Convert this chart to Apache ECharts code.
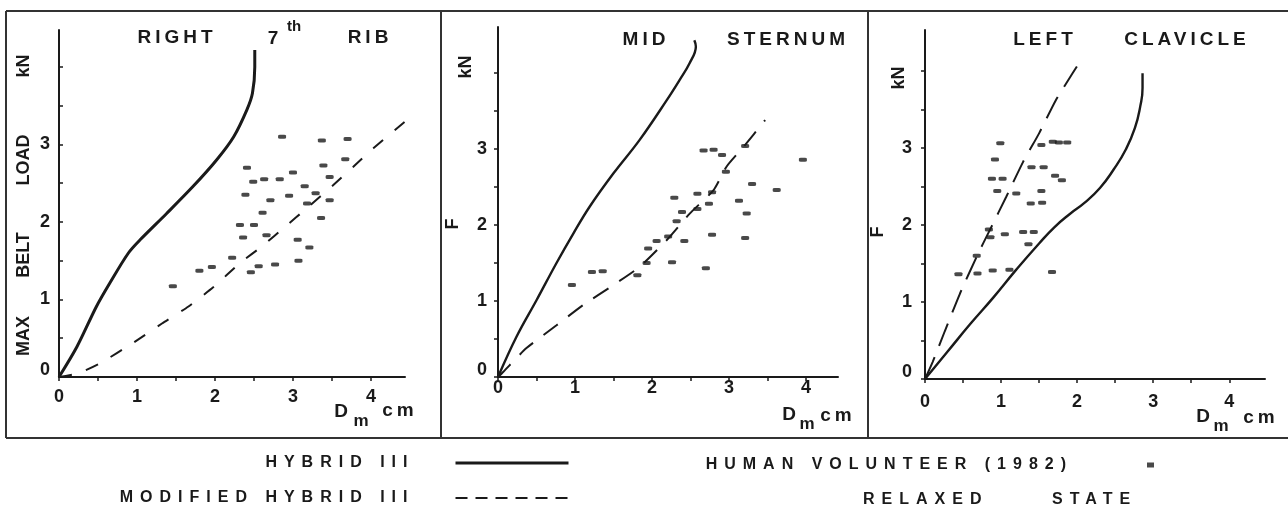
<!DOCTYPE html>
<html>
<head>
<meta charset="utf-8">
<script src="https://cdn.jsdelivr.net/npm/echarts@6/dist/echarts.min.js"></script>
<style>
  html, body { margin: 0; padding: 0; background: #ffffff; }
  #chart { width: 1288px; height: 514px; }
</style>
</head>
<body>
<div id="chart"></div>
<script>
// wide tracking of the lettering: headings and axis titles 4px, legend 7px
(function () {
  const proto = CanvasRenderingContext2D.prototype;
  if (!('letterSpacing' in proto)) return;
  const fill = proto.fillText;
  proto.fillText = function (t, x, y, w) {
    const m = /(\d+(?:\.\d+)?)px/.exec(this.font || '');
    const size = m ? parseFloat(m[1]) : 0;
    this.letterSpacing = (size === 19 || size === 17) ? '4px' : (size === 16 ? '7px' : '0px');
    return w === undefined ? fill.call(this, t, x, y) : fill.call(this, t, x, y, w);
  };
})();

// ---- tick values ----
const xTickValues = [0, 0.5, 1, 1.5, 2, 2.5, 3, 3.5, 4];
const xLabelValues = [0, 1, 2, 3, 4];
const yTickValues = [0, 0.5, 1, 1.5, 2, 2.5, 3, 3.5, 4];
const yLabelValues = [0, 1, 2, 3];

// ---- panel titles ----
const panelTitles = [['RIGHT', '7', 'RIB'], ['MID', 'STERNUM'], ['LEFT', 'CLAVICLE']];

// ---- legend names ----
const seriesNames = ['HYBRID III', 'MODIFIED HYBRID III', 'HUMAN VOLUNTEER (1982)'];

// ---- right 7th rib: [deflection Dm (cm), belt load (kN)] ----
const ribHybrid = [[0,0],[0.23,0.39],[0.48,0.91],[0.65,1.21],[0.89,1.60],[1.04,1.77],[1.38,2.11],[1.72,2.46],[2.02,2.80],[2.24,3.10],[2.41,3.45],[2.48,3.66],[2.51,4.00],[2.51,4.22]];
const ribModified = [[0,0],[0.25,0.05],[0.53,0.18],[0.95,0.44],[1.32,0.69],[1.66,0.91],[1.98,1.16],[2.32,1.47],[2.62,1.70],[2.9,1.94],[3.18,2.18],[3.51,2.47],[3.77,2.71],[4.03,2.95],[4.43,3.29]];
const ribVolunteer = [[1.46,1.17],[1.80,1.37],[1.96,1.42],[2.22,1.54],[2.46,1.35],[2.56,1.43],[2.77,1.45],[3.07,1.50],[2.36,1.80],[2.66,1.83],[3.06,1.77],[3.21,1.67],[2.32,1.96],[2.50,1.96],[2.61,2.12],[3.36,2.05],[2.39,2.35],[2.71,2.28],[2.95,2.34],[3.18,2.24],[3.29,2.37],[3.47,2.28],[3.15,2.46],[3.47,2.58],[2.49,2.52],[2.63,2.55],[2.83,2.55],[3.00,2.64],[2.41,2.70],[3.39,2.73],[3.67,2.81],[2.86,3.10],[3.37,3.05],[3.70,3.07]];

// ---- mid sternum ----
const sternumHybrid = [[0,0],[0.24,0.53],[0.50,1.01],[0.76,1.50],[0.98,1.89],[1.19,2.24],[1.50,2.68],[1.84,3.12],[2.19,3.64],[2.36,3.91],[2.49,4.13],[2.57,4.35],[2.55,4.43]];
const sternumModified = [[0,0],[0.07,0.07],[0.37,0.38],[0.76,0.68],[1.11,0.95],[1.50,1.21],[1.84,1.45],[2.19,1.80],[2.49,2.15],[2.80,2.46],[2.97,2.77],[3.19,3.03],[3.47,3.38]];
const sternumVolunteer = [[0.96,1.21],[1.22,1.38],[1.36,1.39],[1.81,1.34],[1.93,1.50],[1.95,1.69],[2.06,1.79],[2.21,1.85],[2.42,1.79],[2.26,1.51],[2.70,1.43],[2.78,1.87],[3.21,1.83],[2.32,2.05],[2.39,2.17],[2.59,2.21],[2.74,2.28],[2.29,2.36],[2.59,2.41],[2.78,2.43],[3.13,2.32],[3.23,2.15],[3.30,2.54],[3.62,2.46],[2.96,2.70],[2.67,2.98],[2.80,2.99],[2.91,2.92],[3.21,3.04],[3.96,2.86]];

// ---- left clavicle ----
const clavicleHybrid = [[0,0],[0.30,0.36],[0.60,0.72],[0.90,1.06],[1.20,1.42],[1.50,1.76],[1.70,1.97],[1.90,2.14],[2.10,2.29],[2.30,2.48],[2.48,2.72],[2.64,2.98],[2.76,3.26],[2.83,3.54],[2.86,3.78],[2.86,3.97]];
const clavicleModified = [[0,0],[0.10,0.22],[0.26,0.62],[0.46,1.11],[0.68,1.59],[0.86,1.95],[1.07,2.37],[1.29,2.82],[1.50,3.19],[1.72,3.62],[1.94,3.97],[2.05,4.14]];
const clavicleVolunteer = [[0.44,1.36],[0.69,1.37],[0.89,1.41],[1.11,1.42],[1.67,1.39],[0.86,1.84],[1.05,1.88],[1.29,1.91],[1.43,1.91],[1.36,1.75],[0.84,1.94],[0.68,1.60],[0.95,2.44],[1.20,2.41],[1.39,2.28],[1.54,2.29],[1.53,2.44],[0.88,2.60],[1.02,2.60],[1.71,2.64],[1.80,2.58],[1.40,2.75],[1.56,2.75],[0.92,2.85],[0.99,3.06],[1.53,3.04],[1.68,3.08],[1.76,3.07],[1.87,3.07]];

const FONT = 'Liberation Sans';
const INK = '#1a1a1a';

// grid boxes and axis ranges of the three panels
const panels = [
  { grid: { left: 59, top: 30, width: 346, height: 347 }, xMax: 4.436, yMax: 4.477, xLabelMargin: 11, yLabelMargin: 9, yTickInside: true,
    hybrid: ribHybrid, modified: ribModified, volunteer: ribVolunteer, solidWidth: 3, dash: [13, 15], smooth: 0.3 },
  { grid: { left: 498, top: 27, width: 340, height: 350 }, xMax: 4.416, yMax: 4.605, xLabelMargin: 2, yLabelMargin: 11, yTickInside: false,
    hybrid: sternumHybrid, modified: sternumModified, volunteer: sternumVolunteer, solidWidth: 2.4, dash: [18, 13], smooth: 0.4 },
  { grid: { left: 925, top: 30, width: 340, height: 349 }, xMax: 4.47, yMax: 4.532, xLabelMargin: 14, yLabelMargin: 13, yTickInside: false,
    hybrid: clavicleHybrid, modified: clavicleModified, volunteer: clavicleVolunteer, solidWidth: 2.4, dash: [24, 12], smooth: 0.5 }
];

// only whole-number ticks carry a label; the zero on the load axis sits a little higher
function labelOf(allowed, liftZero) {
  return function (v) {
    if (allowed.indexOf(v) < 0) return '';
    return (v === 0 && liftZero) ? '{z|0}' : String(v);
  };
}

const grids = [], xAxes = [], yAxes = [], series = [];
panels.forEach(function (p, i) {
  grids.push(p.grid);
  xAxes.push({
    type: 'value', gridIndex: i, min: 0, max: p.xMax, interval: 0.5,
    axisLine: { show: true, lineStyle: { color: INK, width: 2 } },
    axisTick: { show: true, customValues: xTickValues, length: 4, lineStyle: { color: INK, width: 1.5 } },
    axisLabel: {
      show: true, margin: p.xLabelMargin, color: '#1a1a1a', fontSize: 18, fontWeight: 'bold', fontFamily: FONT,
      showMaxLabel: false, formatter: labelOf(xLabelValues, false)
    },
    splitLine: { show: false }
  });
  yAxes.push({
    type: 'value', gridIndex: i, min: 0, max: p.yMax, interval: 0.5,
    axisLine: { show: true, lineStyle: { color: INK, width: 2 } },
    axisTick: { show: true, inside: p.yTickInside, customValues: yTickValues, length: 4, lineStyle: { color: INK, width: 1.5 } },
    axisLabel: {
      show: true, margin: p.yLabelMargin, color: '#1a1a1a', fontSize: 18, fontWeight: 'bold', fontFamily: FONT,
      showMaxLabel: false, formatter: labelOf(yLabelValues, true),
      rich: { z: { fontSize: 18, fontWeight: 'bold', fontFamily: FONT, color: '#1a1a1a', padding: [0, 0, 14, 0] } }
    },
    splitLine: { show: false }
  });
  series.push({
    type: 'line', name: seriesNames[0], xAxisIndex: i, yAxisIndex: i, data: p.hybrid,
    symbol: 'none', showSymbol: false, smooth: p.smooth, silent: true, z: 4,
    lineStyle: { color: INK, width: p.solidWidth }
  });
  series.push({
    type: 'line', name: seriesNames[1], xAxisIndex: i, yAxisIndex: i, data: p.modified,
    symbol: 'none', showSymbol: false, smooth: 0.2, silent: true, z: 3,
    lineStyle: { color: INK, width: 2, type: p.dash }
  });
  series.push({
    type: 'scatter', name: seriesNames[2], xAxisIndex: i, yAxisIndex: i, data: p.volunteer,
    symbol: 'roundRect', symbolSize: [8, 4], silent: true, z: 5,
    itemStyle: { color: '#1c1c1c' }
  });
});

function word(text, x, y, size, extra, align) {
  return Object.assign({
    type: 'text', x: x, y: y, silent: true,
    style: { text: text, fontSize: size, fontWeight: 'bold', fontFamily: FONT, fill: '#1a1a1a', align: align || 'center', verticalAlign: 'middle' }
  }, extra || {});
}

const up = { rotation: Math.PI / 2 };
const frame = { stroke: '#333', lineWidth: 2 };

const graphics = [
  // frame around the three panels
  { type: 'line', shape: { x1: 6, y1: 11, x2: 1290, y2: 11 }, style: frame, silent: true },
  { type: 'line', shape: { x1: 6, y1: 438, x2: 1290, y2: 438 }, style: frame, silent: true },
  { type: 'line', shape: { x1: 6, y1: 11, x2: 6, y2: 438 }, style: frame, silent: true },
  { type: 'line', shape: { x1: 441, y1: 11, x2: 441, y2: 438 }, style: frame, silent: true },
  { type: 'line', shape: { x1: 868, y1: 11, x2: 868, y2: 438 }, style: frame, silent: true },

  // panel headings
  word(panelTitles[0][0], 177, 38, 19),
  word(panelTitles[0][1], 275, 39, 19),
  word('th', 294, 27, 15),
  word(panelTitles[0][2], 370, 38, 19),
  word(panelTitles[1][0], 646, 40, 19),
  word(panelTitles[1][1], 788, 40, 19),
  word(panelTitles[2][0], 1045, 40, 19),
  word(panelTitles[2][1], 1187, 40, 19),

  // vertical axis titles
  word('MAX', 24, 336, 18, up),
  word('BELT', 24, 255, 18, up),
  word('LOAD', 24, 160, 18, up),
  word('kN', 24, 66, 18, up),
  word('kN', 466, 67, 18, up),
  word('F', 453, 224, 18, up),
  word('kN', 899, 78, 18, up),
  word('F', 878, 232, 18, up),

  // horizontal axis titles: D subscript m, in cm
  word('D', 343, 412, 19), word('m', 363, 421, 17), word('cm', 400, 411, 19),
  word('D', 791, 415, 19), word('m', 809, 424, 17), word('cm', 838, 416, 19),
  word('D', 1205, 417, 19), word('m', 1223, 426, 17), word('cm', 1261, 418, 19),

  // second line of the volunteer legend entry
  word('RELAXED', 863, 500, 16, null, 'left'),
  word('STATE', 1052, 500, 16, null, 'left')
];

const legendText = { fontSize: 16, fontWeight: 'bold', fontFamily: FONT, color: '#1a1a1a' };

const chart = echarts.init(document.getElementById('chart'), null, { renderer: 'canvas' });
chart.setOption({
  animation: false,
  backgroundColor: '#ffffff',
  grid: grids,
  xAxis: xAxes,
  yAxis: yAxes,
  series: series,
  legend: [
    {
      data: [
        { name: seriesNames[0], lineStyle: { color: INK, width: 3, type: 'solid' } },
        { name: seriesNames[1], lineStyle: { color: INK, width: 2, type: [12, 8] } }
      ],
      orient: 'vertical', align: 'right', right: 718, top: 455,
      itemWidth: 113, itemHeight: 14, itemGap: 19, padding: 0, selectedMode: false,
      itemStyle: { opacity: 0 },
      textStyle: Object.assign({ padding: [0, 36, 0, 0] }, legendText)
    },
    {
      data: [{ name: seriesNames[2], icon: 'rect', itemStyle: { color: '#1c1c1c' } }],
      orient: 'horizontal', align: 'right', right: 134, top: 457,
      itemWidth: 7, itemHeight: 5, padding: 0, selectedMode: false,
      textStyle: Object.assign({ padding: [0, 69, 0, 0] }, legendText)
    }
  ],
  graphic: graphics
});
</script>
</body>
</html>
